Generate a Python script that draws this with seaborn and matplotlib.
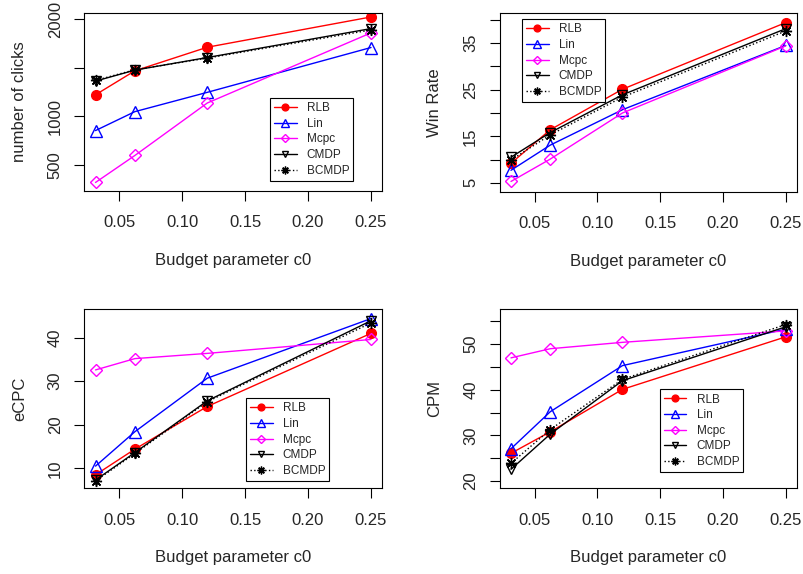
import numpy as np
import matplotlib
matplotlib.use("Agg")
import matplotlib.pyplot as plt
import pandas as pd
import seaborn as sns

# budget parameter values
c0 = [0.03125, 0.0625, 0.12, 0.25]
methods = ["RLB", "Lin", "Mcpc", "CMDP", "BCMDP"]

# values
clicks = {
    "RLB": [1222, 1469, 1712, 2024],
    "Lin": [853, 1048, 1247, 1709],
    "Mcpc": [318, 596, 1137, 1860],
    "CMDP": [1363, 1476, 1606, 1904],
    "BCMDP": [1370, 1480, 1600, 1890],
}
win_rate = {
    "RLB": [9.2, 16.4, 25.1, 39.4],
    "Lin": [7.7, 13.1, 20.7, 34.5],
    "Mcpc": [5.3, 10.1, 20.0, 34.4],
    "CMDP": [10.5, 15.8, 23.9, 38.1],
    "BCMDP": [9.9, 15.3, 23.4, 37.6],
}
ecpc = {
    "RLB": [8.5, 14.4, 24.2, 41.0],
    "Lin": [10.5, 18.4, 30.7, 44.4],
    "Mcpc": [32.6, 35.2, 36.4, 39.6],
    "CMDP": [7.3, 13.6, 25.5, 43.9],
    "BCMDP": [7.1, 13.4, 25.3, 43.4],
}
cpm = {
    "RLB": [26.1, 30.8, 40.1, 51.6],
    "Lin": [27.1, 35.2, 45.3, 53.3],
    "Mcpc": [47.0, 49.0, 50.4, 52.9],
    "CMDP": [22.6, 30.3, 42.0, 53.8],
    "BCMDP": [23.9, 31.3, 42.3, 54.3],
}

x_ticks = [0.05, 0.10, 0.15, 0.20, 0.25]
x_ticklabels = ["0.05", "0.10", "0.15", "0.20", "0.25"]
clicks_ticks = [500, 1000, 1500, 2000]
clicks_labels = ["500", "1000", "", "2000"]
wr_ticks = [5, 10, 15, 20, 25, 30, 35, 40]
wr_labels = ["5", "", "15", "", "25", "", "35", ""]
ecpc_ticks = [10, 20, 30, 40]
ecpc_labels = ["10", "20", "30", "40"]
cpm_ticks = [20, 25, 30, 35, 40, 45, 50, 55]
cpm_labels = ["20", "", "30", "", "40", "", "50", ""]

styles = {
    "RLB": dict(color="#FF0000", marker="o", markersize=7, markerfacecolor="#FF0000", linestyle="-"),
    "Lin": dict(color="#0000FF", marker="^", markersize=8, markerfacecolor="none", linestyle="-"),
    "Mcpc": dict(color="#FF00FF", marker="D", markersize=6, markerfacecolor="none", linestyle="-"),
    "CMDP": dict(color="black", marker="v", markersize=7, markerfacecolor="none", linestyle="-"),
    "BCMDP": dict(color="black", marker=(8, 2, 0), markersize=8, markerfacecolor="black", linestyle=":"),
}

sns.set_style("ticks")
plt.rcParams["font.family"] = ["Liberation Sans", "DejaVu Sans"]

fig = plt.figure(figsize=(8.04, 5.74), dpi=100)
W, H = 804, 574


def box(x0, x1, y0, y1):
    return [x0 / W, 1 - y1 / H, (x1 - x0) / W, (y1 - y0) / H]


panels = [
    (clicks, "number of clicks", clicks_ticks, clicks_labels, (233, 2068), box(84.5, 382, 12.7, 190.7), (0.6235, 0.521)),
    (win_rate, "Win Rate", wr_ticks, wr_labels, (3.1, 41.4), box(500, 796.7, 13.3, 191.7), (0.074, 0.966)),
    (ecpc, "eCPC", ecpc_ticks, ecpc_labels, (5.4, 46.6), box(84.5, 382, 309, 488.3), (0.543, 0.502)),
    (cpm, "CPM", cpm_ticks, cpm_labels, (18.5, 57.7), box(500, 796.7, 309, 488), (0.539, 0.551)),
]

for data, ylab, yt, ytl, ylim, pos, leg in panels:
    ax = fig.add_axes(pos)
    for m in methods:
        df = pd.DataFrame({"c0": c0, "val": data[m]})
        st = styles[m]
        sns.lineplot(data=df, x="c0", y="val", ax=ax, label=m,
                     linewidth=1.0, markeredgecolor=st["color"], markeredgewidth=1.0,
                     **st)
    ax.set_xlim(0.0225, 0.25875)
    ax.set_ylim(*ylim)
    ax.set_xticks(x_ticks)
    ax.set_xticklabels(x_ticklabels)
    ax.set_yticks(yt)
    ax.set_yticklabels(ytl, rotation=90, va="center")
    ax.tick_params(axis="x", length=7.2, width=0.8, pad=10.5, labelsize=12, color="black")
    ax.tick_params(axis="y", length=7.2, width=0.8, pad=8.5, labelsize=12, color="black")
    for s in ax.spines.values():
        s.set_color("black")
        s.set_linewidth(0.8)
    ax.set_xlabel("Budget parameter c0", fontsize=12, labelpad=16)
    ax.set_ylabel(ylab, fontsize=12, labelpad=15)
    lg = ax.legend(loc="upper left", bbox_to_anchor=leg, borderaxespad=0, fontsize=8.5,
                   frameon=True, fancybox=False, edgecolor="black", framealpha=1,
                   handlelength=1.9, handletextpad=0.85, labelspacing=0.31, borderpad=0.35,
                   markerscale=0.7)
    lg.get_frame().set_linewidth(0.8)

fig.savefig("out.png", dpi=100)
